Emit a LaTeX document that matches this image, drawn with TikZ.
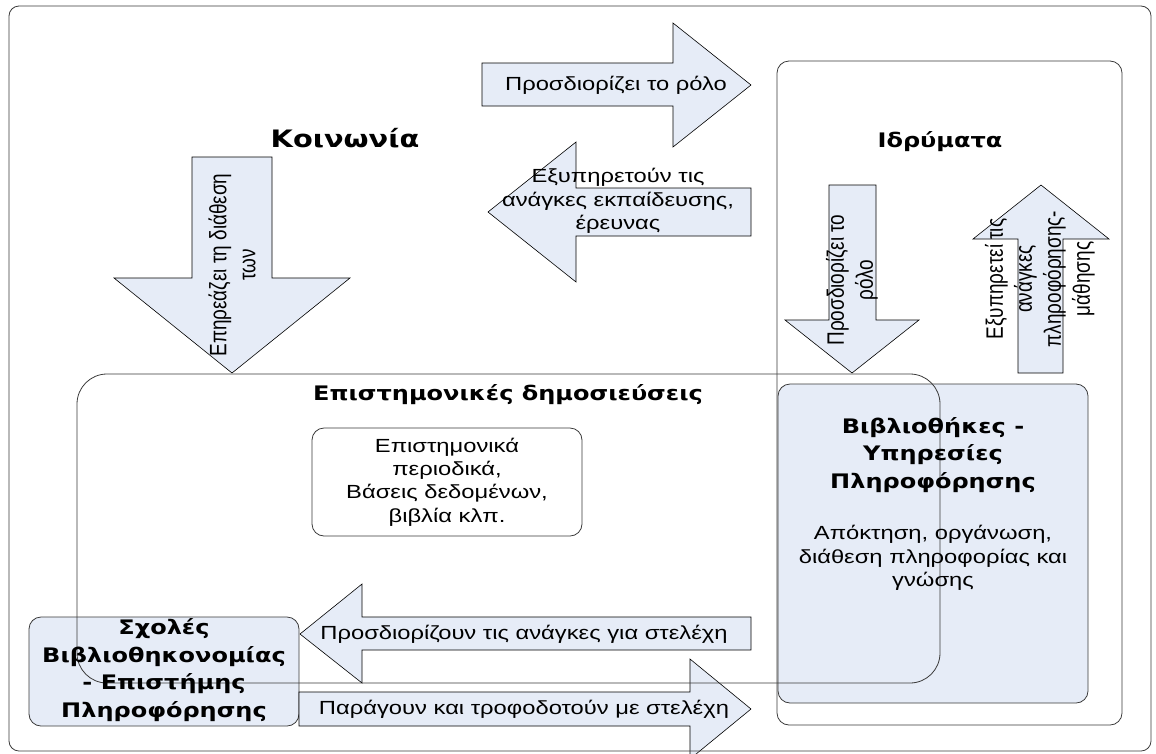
\documentclass[tikz,border=0pt]{standalone}
\usepackage{fontspec}
\setmainfont{Liberation Sans}
\newfontfamily\textface{Liberation Sans}[FakeStretch=1.25]
\newfontfamily\sideface{Liberation Sans}[FakeStretch=0.8]
\newfontfamily\headface{DejaVu Sans}[FakeStretch=1.2]
\usepackage{xcolor}
\usepackage{tikz}
\definecolor{libblue}{HTML}{E6ECF7}
\definecolor{edgegray}{HTML}{3A3A3A}

\begin{document}
\begin{tikzpicture}[x=1pt,y=-1pt,
    frame/.style={draw=edgegray,line width=0.8pt,rounded corners=#1},
    blockarrow/.style={draw=black,fill=libblue,line width=0.6pt,line join=miter},
    heading/.style={font=\headface\bfseries\fontsize{20}{27.5}\selectfont,align=center,inner sep=0pt},
    bigheading/.style={font=\headface\bfseries\fontsize{24}{28}\selectfont,inner sep=0pt},
    label/.style={font=\textface\fontsize{19}{23.3}\selectfont,align=center,inner sep=0pt},
    uplabel/.style={align=center,inner sep=0pt,rotate=90,font=\sideface\fontsize{23.7}{29}\selectfont}]
  \useasboundingbox (0,0) rectangle (1156,753);

  \draw[frame=12pt] (777,61) rectangle (1122,725);
  \draw[frame=12pt,fill=libblue] (778,384) rectangle (1088,703);
  \draw[frame=12pt,fill=libblue] (29,617) rectangle (299,726);

  \draw[blockarrow] (192,157) -- (272,157) -- (272,278) -- (350,278) -- (232,373)
                    -- (114,278) -- (192,278) -- cycle;
  \draw[blockarrow] (482,63) -- (673,63) -- (673,23) -- (751,85) -- (673,147)
                    -- (673,106) -- (482,106) -- cycle;
  \draw[blockarrow] (751,188) -- (576,188) -- (576,142) -- (488,212) -- (576,282)
                    -- (576,236) -- (751,236) -- cycle;
  \draw[blockarrow] (829,185) -- (876,185) -- (876,320) -- (919,320) -- (852,373)
                    -- (785,320) -- (829,320) -- cycle;
  \draw[blockarrow] (1018,373) -- (1018,239) -- (973,239) -- (1041,185) -- (1109,239)
                    -- (1063,239) -- (1063,373) -- cycle;
  \draw[blockarrow] (751,617) -- (362,617) -- (362,584) -- (300,634) -- (362,683)
                    -- (362,650) -- (751,650) -- cycle;
  \draw[blockarrow] (299,692) -- (690,692) -- (690,659) -- (751,709) -- (690,759)
                    -- (690,726) -- (299,726) -- cycle;

  \draw[frame=30pt] (77,374) rectangle (940,683);
  \draw[frame=12pt] (312,428) rectangle (582,536);
  \draw[frame=10pt] (9,6) rectangle (1151,751);

  \node[bigheading] (society) at (345,138) {Κοινωνία};
  \node[heading] (inst) at (940,142) {Ιδρύματα};
  \node[heading] (pubs) at (508,395) {Επιστημονικές δημοσιεύσεις};
  \node[label] (media) at (447,482) {Επιστημονικά\\περιοδικά,\\Βάσεις δεδομένων,\\βιβλία κλπ.};
  \node[heading] (schools) at (164,670) {Σχολές\\Βιβλιοθηκονομίας\\- Επιστήμης\\Πληροφόρησης};
  \node[heading] (libs) at (933,455) {Βιβλιοθήκες -\\Υπηρεσίες\\Πληροφόρησης};
  \node[label] (libtasks) at (933,558) {Απόκτηση, οργάνωση,\\διάθεση πληροφορίας και\\γνώσης};

  \node[uplabel] (affects) at (232,265) {Επηρεάζει τη διάθεση\\των};
  \node[label] (role) at (616,85) {Προσδιορίζει το ρόλο};
  \node[label] (serve) at (618,201) {Εξυπηρετούν τις\\ανάγκες εκπαίδευσης,\\έρευνας};
  \node[uplabel] (librole) at (852,280) {Προσδιορίζει το\\ρόλο};
  \node[uplabel] (libserve) at (1040,279) {Εξυπηρετεί τις\\ανάγκες\\πληροφόρησης-\\μάθησης};
  \node[label] (needs) at (524,634) {Προσδιορίζουν τις ανάγκες για στελέχη};
  \node[label] (supply) at (524,709) {Παράγουν και τροφοδοτούν με στελέχη};
\end{tikzpicture}
\end{document}
